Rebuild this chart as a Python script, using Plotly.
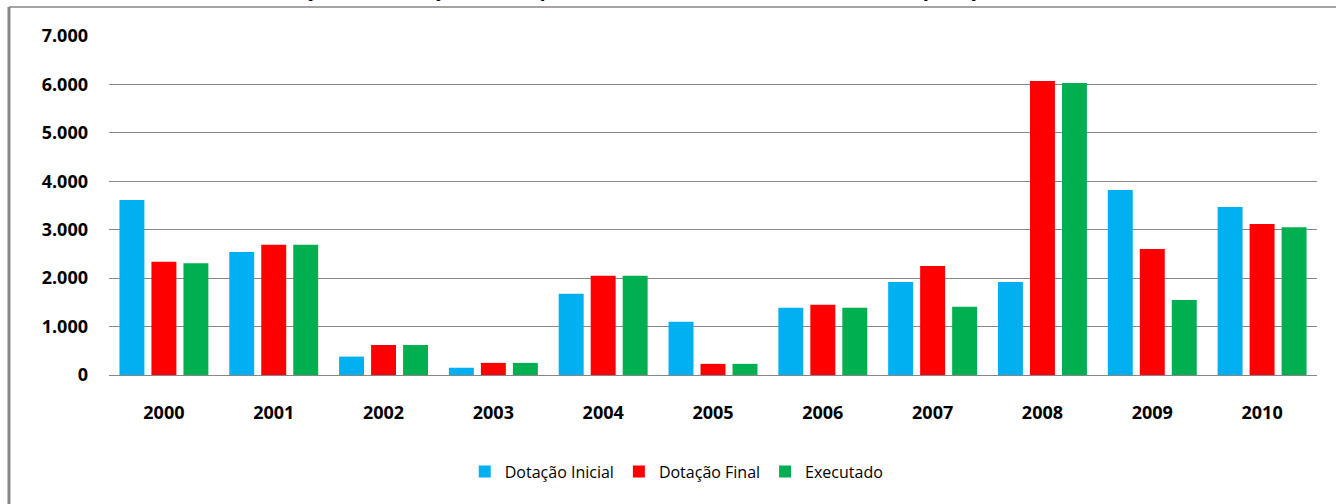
import plotly.graph_objects as go

anos = ["2000", "2001", "2002", "2003", "2004", "2005", "2006", "2007", "2008", "2009", "2010"]
dotacao_inicial = [3615, 2540, 380, 150, 1680, 1100, 1390, 1920, 1920, 3820, 3470]
dotacao_final = [2340, 2690, 620, 250, 2050, 230, 1450, 2250, 6070, 2600, 3120]
executado = [2310, 2690, 620, 250, 2050, 230, 1390, 1410, 6030, 1550, 3050]

titulo = "Evolução da Execução da Despesa do Plano Federal de Obras e Recuperação (em R$ milhões)"

cores = {"Dotação Inicial": "#00b0f0", "Dotação Final": "#ff0000", "Executado": "#00b050"}
series = {"Dotação Inicial": dotacao_inicial, "Dotação Final": dotacao_final, "Executado": executado}

fig = go.Figure()
for nome, valores in series.items():
    fig.add_trace(go.Bar(x=anos, y=valores, name=nome, marker_color=cores[nome], marker_line_width=0))

cinza = "#868686"
fonte = "Open Sans"
fig.update_layout(
    width=1336, height=504,
    margin=dict(l=109, r=19, t=36, b=129),
    paper_bgcolor="white", plot_bgcolor="white",
    barmode="group", bargap=0.126, bargroupgap=0.22,
    separators=",.",
    font=dict(family=fonte, color="black"),
    showlegend=True,
    legend=dict(orientation="h", x=0.47, xanchor="center", y=-0.235, yanchor="top",
                font=dict(size=16, family=fonte), itemwidth=30, tracegroupgap=0),
    # outer chart box (only top and left edges are visible in the original)
    shapes=[
        dict(type="line", xref="paper", yref="paper", x0=-0.0828, x1=1.1, y0=1.0855, y1=1.0855,
             line=dict(color=cinza, width=1.5)),
        dict(type="line", xref="paper", yref="paper", x0=-0.0828, x1=-0.0828, y0=1.0855, y1=-0.5,
             line=dict(color=cinza, width=3)),
    ],
    # title sits mostly above the visible area, as in the original screenshot
    annotations=[
        dict(text="<b>" + titulo + "</b>", xref="paper", yref="paper", x=0.497, y=1.094,
             xanchor="center", yanchor="bottom", showarrow=False,
             font=dict(size=20, family=fonte, color="black")),
    ],
)
fig.update_xaxes(showgrid=False, showline=True, linecolor=cinza, linewidth=1.3, ticks="",
                 ticklabelstandoff=21, tickfont=dict(size=18, family=fonte, weight="bold"))
fig.update_yaxes(range=[0, 7000], dtick=1000, tickformat=",d", showgrid=True, gridcolor=cinza,
                 gridwidth=1.3, zeroline=False, showline=False, ticks="", ticklabelstandoff=20,
                 tickfont=dict(size=18, family=fonte, weight="bold"))

fig.write_html("out.html", config={"displayModeBar": False},
               post_script="document.body.style.margin='0px';")
